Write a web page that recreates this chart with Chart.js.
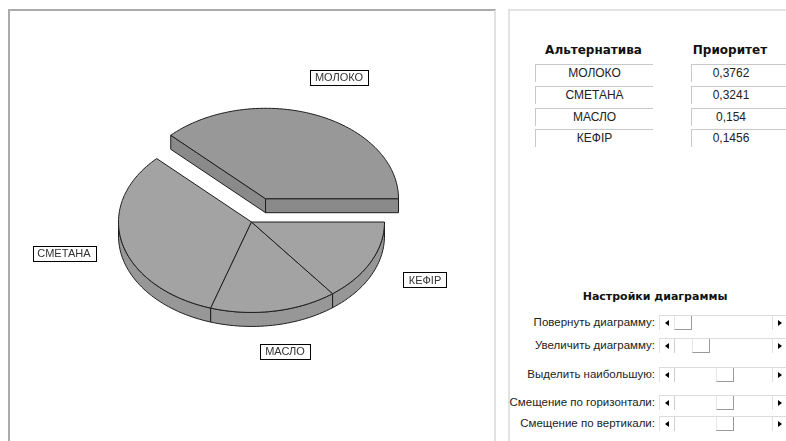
<!DOCTYPE html>
<html>
<head>
<meta charset="utf-8">
<script src="https://cdn.jsdelivr.net/npm/chart.js@4.4.0/dist/chart.umd.min.js"></script>
<style>
  body { margin: 0; width: 786px; height: 441px; overflow: hidden; background: #fff;
         font-family: "Liberation Sans", Arial, sans-serif; color: #111; position: relative; }
  #leftFrame { position: absolute; left: 8px; top: 9px; width: 484px; height: 440px;
               border-top: 2px solid #ababab; border-left: 2px solid #ababab; border-right: 2px solid #e2e2e2; }
  #rightFrame { position: absolute; left: 508px; top: 9px; width: 290px; height: 440px;
                border-top: 2px solid #e2e2e2; border-left: 2px solid #e2e2e2; }
  #pie { position: absolute; left: 10px; top: 11px; }
  .hdr { position: absolute; top: 43px; font: bold 12px "DejaVu Sans", sans-serif; text-align: center; }
  .cell { position: absolute; height: 17px; line-height: 17px; font-size: 12px; text-align: center;
          border-top: 1px solid #c9c9c9; border-left: 1px solid #c9c9c9; color: #222; }
  .ttl { position: absolute; left: 560px; width: 190px; top: 290px; text-align: center;
         font: bold 11px "DejaVu Sans", sans-serif; }
  .lbl { position: absolute; right: 131px; font-size: 11.5px; height: 15px; line-height: 15px; color: #222; white-space: nowrap; }
  .bar { position: absolute; left: 659px; width: 130px; height: 14px; border-top: 1px solid #dcdcdc; background: #fff; }
  .btn { position: absolute; top: 0; width: 14px; height: 14px; border-left: 1px solid #e0e0e0; border-right: 1px solid #cfcfcf; }
  .btn i { position: absolute; top: 4px; width: 0; height: 0; border-top: 3px solid transparent; border-bottom: 3px solid transparent; }
  .thumb { position: absolute; top: 0; width: 16px; height: 13px; border-right: 1px solid #9a9a9a; border-bottom: 1px solid #9a9a9a; border-left: 1px solid #e6e6e6; }
</style>
</head>
<body>
<div id="leftFrame"></div>
<div id="rightFrame"></div>
<canvas id="pie" width="483" height="430"></canvas>
<div id="panel"></div>
<script>
// --- data ---
const alternatives = ['МОЛОКО', 'СМЕТАНА', 'МАСЛО', 'КЕФІР'];
const priorities = [0.3762, 0.3241, 0.154, 0.1456];
const headers = ['Альтернатива', 'Приоритет'];
const settingsTitle = 'Настройки диаграммы';
const settingLabels = ['Повернуть диаграмму:', 'Увеличить диаграмму:', 'Выделить наибольшую:',
                       'Смещение по горизонтали:', 'Смещение по вертикали:'];
const settingValues = [0, 21, 50, 50, 50];

// --- look of the 3d pie ---
const EXPLODE = [37, 0, 0, 0];
const DEPTH = 14, TILT = 0.68, LIFT = -4, LABEL_R = 1.45;
const SIDE = ['#8a8a8a', '#979797', '#979797', '#979797'];

function pt(a, i, ang, r, dy) {
  const mid = (a.startAngle + a.endAngle) / 2;
  const x = a.x + Math.cos(mid) * EXPLODE[i] + Math.cos(ang) * r;
  const y = Math.sin(mid) * EXPLODE[i] + Math.sin(ang) * r;
  return [x, a.y + LIFT - TILT * y + dy];
}

function rim(a, i, s, e, dy) {
  const n = Math.max(2, Math.ceil((e - s) / 0.03));
  const out = [];
  for (let k = 0; k <= n; k++) out.push(pt(a, i, s + (e - s) * k / n, a.outerRadius, dy));
  return out;
}

function poly(ctx, pts, fill) {
  ctx.beginPath();
  pts.forEach((p, k) => k ? ctx.lineTo(p[0], p[1]) : ctx.moveTo(p[0], p[1]));
  ctx.closePath();
  ctx.fillStyle = fill;
  ctx.fill();
  ctx.stroke();
}

const pie3d = {
  id: 'pie3d',
  beforeDatasetsDraw(chart) {
    const ctx = chart.ctx;
    const arcs = chart.getDatasetMeta(0).data;
    const n = arcs.length;
    ctx.save();
    ctx.lineWidth = 1;
    ctx.strokeStyle = '#1e1e1e';
    ctx.lineJoin = 'round';

    // cut faces that show in the gap of an exploded slice
    arcs.forEach((a, i) => {
      const faces = [
        [a.startAngle, Math.cos(a.startAngle) > 0, EXPLODE[(i + n - 1) % n]],
        [a.endAngle, Math.cos(a.endAngle) < 0, EXPLODE[(i + 1) % n]]
      ];
      faces.forEach(([ang, front, nb]) => {
        if (!front || !(EXPLODE[i] > 0 || nb > 0)) return;
        poly(ctx, [pt(a, i, ang, 0, 0), pt(a, i, ang, a.outerRadius, 0),
                   pt(a, i, ang, a.outerRadius, DEPTH), pt(a, i, ang, 0, DEPTH)], SIDE[i]);
      });
    });

    // front walls
    arcs.forEach((a, i) => {
      const s = Math.max(a.startAngle, Math.PI), e = Math.min(a.endAngle, 2 * Math.PI);
      if (e <= s) return;
      poly(ctx, rim(a, i, s, e, 0).concat(rim(a, i, s, e, DEPTH).reverse()), SIDE[i]);
    });

    // top faces
    arcs.forEach((a, i) => {
      poly(ctx, [pt(a, i, 0, 0, 0)].concat(rim(a, i, a.startAngle, a.endAngle, 0)), a.options.backgroundColor);
    });
    ctx.restore();
    return false;
  },
  afterDraw(chart) {
    const ctx = chart.ctx;
    const arcs = chart.getDatasetMeta(0).data;
    ctx.save();
    ctx.font = '11px "Liberation Sans", Arial, sans-serif';
    ctx.textAlign = 'center';
    ctx.textBaseline = 'middle';
    arcs.forEach((a, i) => {
      const mid = (a.startAngle + a.endAngle) / 2;
      const [x, y] = pt(a, i, mid, a.outerRadius * LABEL_R, 0);
      const text = chart.data.labels[i];
      const w = Math.round(ctx.measureText(text).width) + 10, h = 15;
      const bx = Math.round(x - w / 2) + 0.5, by = Math.round(y - h / 2) + 0.5;
      ctx.fillStyle = '#fff';
      ctx.fillRect(bx, by, w, h);
      ctx.strokeStyle = '#000';
      ctx.lineWidth = 1;
      ctx.strokeRect(bx, by, w, h);
      ctx.fillStyle = '#333';
      ctx.fillText(text, Math.round(x), Math.round(y) + 1);
    });
    ctx.restore();
  }
};

new Chart(document.getElementById('pie'), {
  type: 'pie',
  data: {
    labels: alternatives,
    datasets: [{
      data: priorities,
      backgroundColor: ['#989898', '#a3a3a3', '#a3a3a3', '#a3a3a3'],
      borderWidth: 0,
      radius: 133
    }]
  },
  options: {
    responsive: false,
    animation: false,
    rotation: 90,
    layout: { padding: 0 },
    events: [],
    plugins: { legend: { display: false }, tooltip: { enabled: false } }
  },
  plugins: [pie3d]
});

// --- right panel: table and settings ---
const panel = document.getElementById('panel');
let html = '';
html += `<div class="hdr" style="left:535px;width:117px">${headers[0]}</div>`;
html += `<div class="hdr" style="left:688px;width:84px">${headers[1]}</div>`;
const rowTops = [64, 86, 108, 129];
alternatives.forEach((name, i) => {
  html += `<div class="cell" style="left:535px;width:117px;top:${rowTops[i]}px">${name}</div>`;
  html += `<div class="cell" style="left:691px;width:96px;top:${rowTops[i]}px"><span style="margin-left:-18px">${String(priorities[i]).replace('.', ',')}</span></div>`;
});
html += `<div class="ttl">${settingsTitle}</div>`;
const barTops = [315, 338, 367, 395, 416];
settingLabels.forEach((label, i) => {
  const t = barTops[i];
  const thumbX = 15 + Math.round(settingValues[i] / 100 * 84);
  html += `<div class="lbl" style="top:${t}px">${label}</div>`;
  html += `<div class="bar" style="top:${t}px">` +
          `<div class="btn" style="left:0"><i style="left:5px;border-right:4px solid #000"></i></div>` +
          `<div class="thumb" style="left:${thumbX}px"></div>` +
          `<div class="btn" style="left:113px;border-right:none"><i style="left:5px;border-left:4px solid #000"></i></div>` +
          `</div>`;
});
panel.innerHTML = html;
</script>
</body>
</html>
